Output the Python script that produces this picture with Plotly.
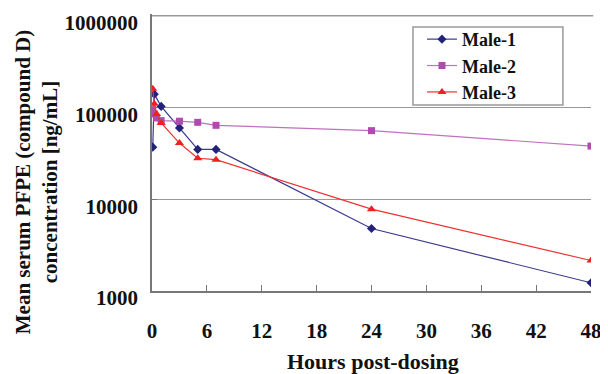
import plotly.graph_objects as go

hours_1 = [0.083, 0.25, 1, 3, 5, 7, 24, 48]
male_1 = [37000, 140000, 103000, 60000, 35000, 35000, 4800, 1230]

hours_2 = [0.083, 0.25, 0.5, 1, 3, 5, 7, 24, 48]
male_2 = [95000, 85000, 77000, 72000, 71000, 69000, 64000, 56000, 38000]

hours_3 = [0.083, 0.25, 0.5, 1, 3, 5, 7, 24, 48]
male_3 = [160000, 110000, 85000, 68000, 41000, 28000, 27000, 7800, 2150]

x_ticks = [0, 6, 12, 18, 24, 30, 36, 42, 48]
y_ticks = [1000, 10000, 100000, 1000000]
y_tick_labels = ["1000", "10000", "100000", "1000000"]

FONT = "Liberation Serif"
Y_TOP = 6.02

fig = go.Figure()
fig.add_trace(go.Scatter(x=hours_1, y=male_1, name="<b>Male-1</b>", mode="lines+markers",
                         line=dict(color="#3a3a8f", width=1.2),
                         marker=dict(symbol="diamond", size=7, color="#22227a")))
fig.add_trace(go.Scatter(x=hours_2, y=male_2, name="<b>Male-2</b>", mode="lines+markers",
                         line=dict(color="#c070c0", width=1.2),
                         marker=dict(symbol="square", size=7, color="#b04ab0")))
fig.add_trace(go.Scatter(x=hours_3, y=male_3, name="<b>Male-3</b>", mode="lines+markers",
                         line=dict(color="#f03030", width=1.2),
                         marker=dict(symbol="triangle-up", size=8, color="#ee2020")))

top_grid = 1 - (Y_TOP - 6) / (Y_TOP - 3)

fig.update_layout(
    width=600, height=366,
    margin=dict(l=144, r=17, t=6, b=83, autoexpand=False),
    paper_bgcolor="white", plot_bgcolor="white",
    font=dict(family=FONT, size=19, color="#111"),
    showlegend=True,
    legend=dict(x=0.615, y=0.975, xanchor="left", yanchor="top",
                borderwidth=0, bgcolor="rgba(0,0,0,0)",
                font=dict(family=FONT, size=18, color="#111"),
                tracegroupgap=0, itemwidth=30, traceorder="normal"),
    shapes=[
        dict(type="line", xref="paper", yref="paper", x0=0, x1=1.005,
             y0=top_grid, y1=top_grid, line=dict(color="#999", width=1.5), layer="above"),
        dict(type="rect", xref="paper", yref="paper",
             x0=0.5945, x1=0.936, y0=0.6715, y1=0.953,
             line=dict(color="#999", width=1.5), fillcolor="white", layer="below"),
    ],
    xaxis=dict(range=[0, 48], tickmode="array", tickvals=x_ticks,
               ticktext=[f"<b>{v}</b>" for v in x_ticks], automargin=False,
               showgrid=False, zeroline=False, showline=True, linecolor="#777",
               linewidth=1.5, ticks="inside", ticklen=6, tickcolor="#777",
               ticklabeloverflow="allow",
               ticklabelstandoff=20, tickfont=dict(family=FONT, size=21)),
    yaxis=dict(type="log", range=[3, Y_TOP], tickmode="array", tickvals=y_ticks,
               ticktext=[f"<b>{t}</b>" for t in y_tick_labels], automargin=False,
               showgrid=True, gridcolor="#999", gridwidth=1.2,
               zeroline=False, showline=True, linecolor="#777", linewidth=1.5,
               ticks="inside", ticklen=5, tickcolor="#777",
               ticklabeloverflow="allow", ticklabelshift=7,
               ticklabelstandoff=8, tickfont=dict(family=FONT, size=21)),
    annotations=[
        dict(text="<b>Hours post-dosing</b>", xref="paper", yref="paper",
             x=0.503, y=-0.256, xanchor="center", yanchor="middle",
             showarrow=False, font=dict(family=FONT, size=22)),
        dict(text="<b>Mean serum PFPE (compound D)<br>concentration [ng/mL]</b>",
             xref="paper", yref="paper", x=-0.264, y=0.393, textangle=-90,
             xanchor="center", yanchor="middle", showarrow=False,
             font=dict(family=FONT, size=21)),
    ],
)

fig.write_html("out.html")
